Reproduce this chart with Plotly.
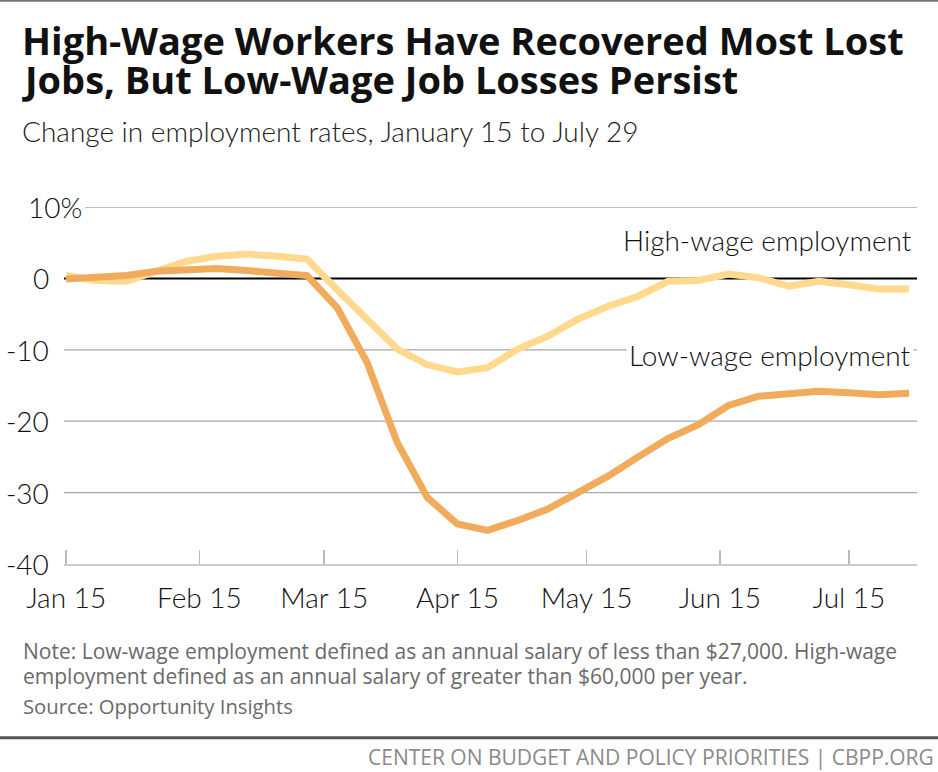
import plotly.graph_objects as go

dates = ["2020-01-15", "2020-01-22", "2020-01-29", "2020-02-05", "2020-02-12", "2020-02-19",
         "2020-02-26", "2020-03-04", "2020-03-11", "2020-03-18", "2020-03-25", "2020-04-01",
         "2020-04-08", "2020-04-15", "2020-04-22", "2020-04-29", "2020-05-06", "2020-05-13",
         "2020-05-20", "2020-05-27", "2020-06-03", "2020-06-10", "2020-06-17", "2020-06-24",
         "2020-07-01", "2020-07-08", "2020-07-15", "2020-07-22", "2020-07-29"]
high_wage = [0.4, -0.3, -0.4, 1.0, 2.4, 3.1, 3.4, 3.1, 2.7, -1.6, -5.8, -9.9, -12.1, -13.1,
             -12.5, -9.9, -8.1, -5.7, -3.9, -2.5, -0.4, -0.3, 0.6, 0.1, -1.1, -0.4, -0.9, -1.5, -1.5]
low_wage = [-0.1, 0.1, 0.4, 1.0, 1.2, 1.4, 1.1, 0.8, 0.4, -4.1, -11.8, -23.0, -30.7, -34.4,
            -35.3, -33.9, -32.3, -30.0, -27.7, -25.0, -22.4, -20.5, -17.8, -16.5, -16.2, -15.8,
            -16.0, -16.3, -16.1]
x_tick_vals = ["2020-01-15", "2020-02-15", "2020-03-15", "2020-04-15", "2020-05-15", "2020-06-15", "2020-07-15"]
x_tick_text = ["Jan 15", "Feb 15", "Mar 15", "Apr 15", "May 15", "Jun 15", "Jul 15"]
y_tick_vals = [10, 0, -10, -20, -30, -40]
y_tick_text = ["10%", "0", "-10", "-20", "-30", "-40"]

W, H = 938, 772
L, R = 64, 917
T, B = 207.3, 564.3

def px(x):
    return (x - L) / (R - L)

def py(y):
    return (B - y) / (B - T)

FONT = "Lato"
NOTEFONT = "Open Sans"
fig = go.Figure()
fig.add_trace(go.Scatter(x=dates, y=high_wage, mode="lines", name="High-wage employment",
                         line=dict(color="#FFD98E", width=7), hoverinfo="skip"))
fig.add_trace(go.Scatter(x=dates, y=low_wage, mode="lines", name="Low-wage employment",
                         line=dict(color="#F0AC5C", width=7), hoverinfo="skip"))

shapes = []
for v in [10, -10, -20, -30]:
    shapes.append(dict(type="line", xref="paper", yref="y", x0=px(85) if v == 10 else 0, x1=1,
                       y0=v, y1=v, line=dict(color="#a8a8a8", width=1.3), layer="below"))
shapes.append(dict(type="line", xref="paper", yref="y", x0=0, x1=1, y0=0, y1=0,
                   line=dict(color="#000000", width=2), layer="below"))
shapes.append(dict(type="line", xref="paper", yref="paper", x0=px(0), x1=px(W), y0=py(1), y1=py(1),
                   line=dict(color="#777777", width=2)))
shapes.append(dict(type="line", xref="paper", yref="paper", x0=px(0), x1=px(W), y0=py(738), y1=py(738),
                   line=dict(color="#555555", width=3)))

ann = []
for v, t in zip(y_tick_vals, y_tick_text):
    ann.append(dict(xref="paper", yref="y", x=px(51) if t != "10%" else px(26), y=v, text=t,
                    xanchor="right" if t != "10%" else "left", yanchor="middle", showarrow=False,
                    font=dict(family=FONT, size=28, color="#111111", weight=300)))

ann += [
    dict(xref="paper", yref="paper", x=px(20), y=py(40), xanchor="left", yanchor="middle",
         text="<b>High-Wage Workers Have Recovered Most Lost</b>",
         showarrow=False, font=dict(family=NOTEFONT, size=38, color="#111111")),
    dict(xref="paper", yref="paper", x=px(20), y=py(79), xanchor="left", yanchor="middle",
         text="<b>Jobs, But Low-Wage Job Losses Persist</b>",
         showarrow=False, font=dict(family=NOTEFONT, size=38, color="#111111")),
    dict(xref="paper", yref="paper", x=px(20), y=py(131), xanchor="left", yanchor="middle",
         text="Change in employment rates, January 15 to July 29", showarrow=False,
         font=dict(family=FONT, size=28, color="#222222", weight=300)),
    dict(xref="paper", yref="paper", x=px(914), y=py(240), xanchor="right", yanchor="middle",
         text="High-wage employment", showarrow=False,
         font=dict(family=FONT, size=28, color="#111111", weight=300)),
    dict(xref="paper", yref="paper", x=px(914), y=py(355), xanchor="right", yanchor="middle",
         text="Low-wage employment", showarrow=False, bgcolor="white", borderpad=2,
         font=dict(family=FONT, size=28, color="#111111", weight=300)),
    dict(xref="paper", yref="paper", x=px(21), y=py(651), xanchor="left", yanchor="middle",
         text="Note: Low-wage employment defined as an annual salary of less than $27,000. High-wage",
         showarrow=False, font=dict(family=NOTEFONT, size=21, color="#6a6a6a")),
    dict(xref="paper", yref="paper", x=px(21), y=py(676), xanchor="left", yanchor="middle",
         text="employment defined as an annual salary of greater than $60,000 per year.",
         showarrow=False, font=dict(family=NOTEFONT, size=21, color="#6a6a6a")),
    dict(xref="paper", yref="paper", x=px(21), y=py(706), xanchor="left", yanchor="middle",
         text="Source: Opportunity Insights", showarrow=False,
         font=dict(family=NOTEFONT, size=20.3, color="#6a6a6a")),
    dict(xref="paper", yref="paper", x=px(936), y=py(757), xanchor="right", yanchor="middle",
         text="CENTER ON BUDGET AND POLICY PRIORITIES | CBPP.ORG", showarrow=False,
         font=dict(family=NOTEFONT, size=21, color="#8a8a8a")),
]

fig.update_layout(
    width=W, height=H, paper_bgcolor="white", plot_bgcolor="white",
    margin=dict(l=L, r=W - R, t=T, b=H - B, pad=0),
    showlegend=False, shapes=shapes, annotations=ann,
    xaxis=dict(type="date", range=["2020-01-14 12:00", "2020-07-30 20:00"],
               tickvals=x_tick_vals, ticktext=x_tick_text, showgrid=False, zeroline=False,
               showline=True, linecolor="#cccccc", linewidth=2,
               ticks="inside", ticklen=14, tickwidth=1.5, tickcolor="#bbbbbb",
               ticklabelstandoff=8,
               tickfont=dict(family=FONT, size=28, color="#111111", weight=300)),
    yaxis=dict(range=[-40, 10], showgrid=False, zeroline=False, showticklabels=False,
               showline=False, ticks=""),
)

fig.write_html("out.html", config={"displayModeBar": False, "staticPlot": True},
               post_script="document.body.style.margin='0';document.body.style.overflow='hidden';")
